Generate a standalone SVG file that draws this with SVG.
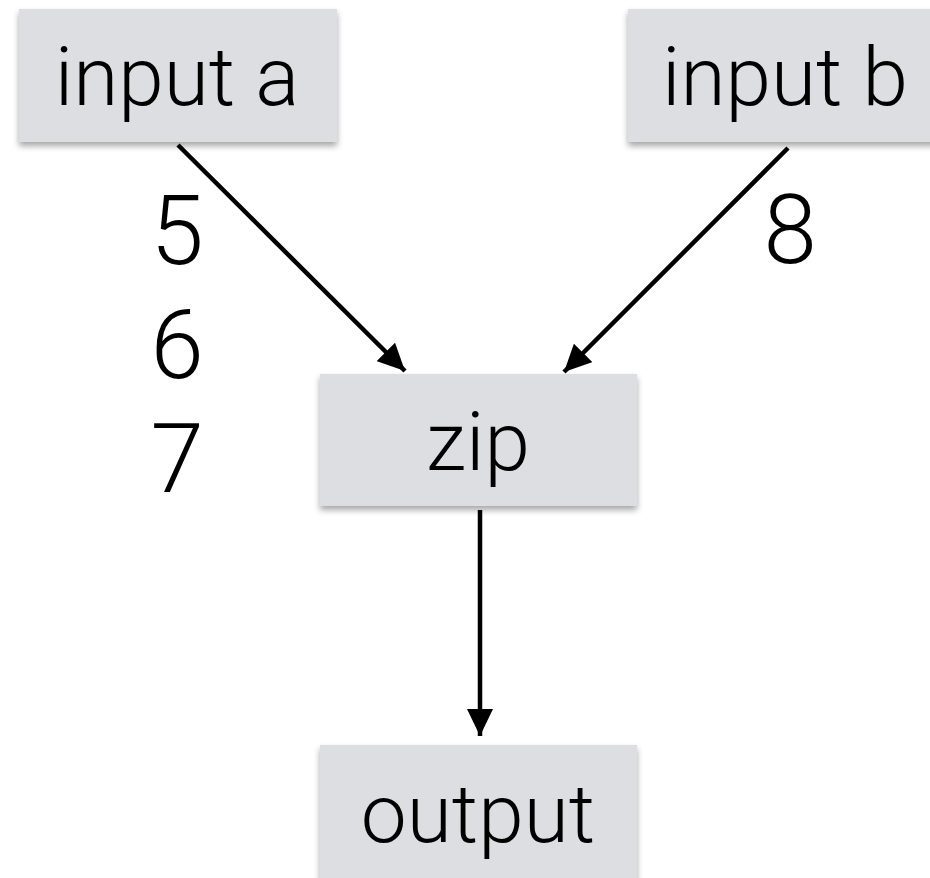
<svg xmlns="http://www.w3.org/2000/svg" width="930" height="878" viewBox="0 0 930 878">
<style>
.box{fill:#dddee1;filter:url(#sh)}
.t{font-family:Roboto,"Noto Sans",sans-serif;font-weight:300;font-size:82px;fill:#000;text-anchor:middle}
.n{font-family:Roboto,"Noto Sans",sans-serif;font-weight:300;font-size:96px;fill:#000;text-anchor:middle}
.c{stroke:#000;stroke-width:4.5;fill:none;marker-end:url(#ah)}
</style>
<defs>
<filter id="sh" x="-10%" y="-10%" width="120%" height="130%">
<feDropShadow dx="0" dy="4" stdDeviation="3" flood-color="#000" flood-opacity="0.35"/>
</filter>
<marker id="ah" markerUnits="userSpaceOnUse" markerWidth="28" markerHeight="26" refX="27" refY="13" orient="auto">
<path d="M0,0 L27,13 L0,26 z" fill="#000"/>
</marker>
</defs>
<rect width="930" height="878" fill="#fff"/>
<g id="connectors">
<line class="c" x1="178" y1="145" x2="405" y2="371"/>
<line class="c" x1="788" y1="148" x2="564" y2="372"/>
<line class="c" x1="480" y1="510" x2="480" y2="736"/>
</g>
<g id="node-input-a">
<rect class="box" x="19" y="9" width="318" height="133"/>
<text class="t" x="177" y="105">input a</text>
</g>
<g id="node-input-b">
<rect class="box" x="628" y="9" width="318" height="133"/>
<text class="t" x="785" y="105">input b</text>
</g>
<g id="node-zip">
<rect class="box" x="320" y="374" width="317" height="132"/>
<text class="t" x="478" y="470">zip</text>
</g>
<g id="node-output">
<rect class="box" x="320" y="745" width="317" height="145"/>
<text class="t" x="478" y="842">output</text>
</g>
<g id="labels">
<text class="n" x="177" y="264">5</text>
<text class="n" x="177" y="378">6</text>
<text class="n" x="177" y="492">7</text>
<text class="n" x="790" y="263">8</text>
</g>
</svg>
